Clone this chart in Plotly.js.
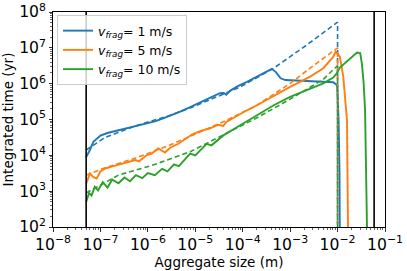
<!DOCTYPE html>
<html>
<head>
<meta charset="utf-8">
<script src="https://cdn.plot.ly/plotly-3.0.1.min.js"></script>
<style>html,body{margin:0;padding:0;background:#fff;}#chart{width:407px;height:271px;}</style>
</head>
<body>
<div id="chart"></div>
<script>
// ---- data (aggregate size in m, integrated time in yr) ----
const labels = ["<i>v</i><sub><i>frag</i></sub>= 1 m/s", "<i>v</i><sub><i>frag</i></sub>= 5 m/s", "<i>v</i><sub><i>frag</i></sub>= 10 m/s"];
const colors = ["#1f77b4", "#ff7f0e", "#2ca02c"];

const blueSize = [5.0e-8, 6.0e-8, 7.1e-8, 1.0e-7, 1.4e-7, 1.86e-7, 2.8e-7, 4.2e-7, 6.3e-7, 9.5e-7, 1.4e-6, 2.1e-6, 3.2e-6, 4.8e-6, 7.8e-6, 1.26e-5, 2.0e-5, 3.3e-5, 4.0e-5, 4.5e-5, 5.4e-5, 7.9e-5, 1.23e-4, 2.24e-4, 4.1e-4, 5.0e-4, 6.3e-4, 7.9e-4, 2.0e-3, 5.0e-3, 8.1e-3, 9.8e-3, 1.05e-2, 1.1e-2, 1.12e-2, 1.12e-2];
const blueTime = [8.9e3, 1.41e4, 2.4e4, 3.55e4, 4.2e4, 4.6e4, 5.2e4, 5.8e4, 6.6e4, 7.8e4, 8.9e4, 1.07e5, 1.32e5, 1.66e5, 2.2e5, 2.95e5, 4.0e5, 5.4e5, 5.5e5, 4.9e5, 6.3e5, 8.5e5, 1.12e6, 1.66e6, 2.6e6, 2.1e6, 1.41e6, 1.26e6, 1.2e6, 1.15e6, 1.1e6, 9.1e5, 1.0e5, 3.2e3, 1.0e2, 1.0e1];

const orangeSize = [5.0e-8, 6.0e-8, 7.0e-8, 8.3e-8, 1.0e-7, 1.26e-7, 1.8e-7, 2.4e-7, 3.5e-7, 5.4e-7, 6.5e-7, 9.5e-7, 1.2e-6, 1.66e-6, 2.3e-6, 3.0e-6, 4.4e-6, 6.0e-6, 8.5e-6, 1.3e-5, 2.0e-5, 3.0e-5, 3.9e-5, 4.5e-5, 7.0e-5, 1.2e-4, 2.0e-4, 4.0e-4, 1.0e-3, 2.6e-3, 5.0e-3, 8.1e-3, 9.1e-3, 9.8e-3, 1.12e-2, 1.32e-2, 1.45e-2, 1.58e-2, 1.66e-2, 1.66e-2];
const orangeTime = [1.62e3, 3.1e3, 2.5e3, 2.24e3, 3.55e3, 4.3e3, 4.9e3, 5.4e3, 6.3e3, 7.4e3, 6.8e3, 1.02e4, 1.12e4, 1.55e4, 1.2e4, 1.66e4, 2.1e4, 2.8e4, 3.8e4, 4.8e4, 5.6e4, 7.1e4, 6.6e4, 8.5e4, 1.2e5, 1.78e5, 2.5e5, 4.2e5, 8.1e5, 1.55e6, 2.7e6, 5.6e6, 7.8e6, 7.1e6, 5.6e6, 1.55e6, 3.5e5, 9.5e4, 1.0e2, 1.0e1];

const greenSize = [5.0e-8, 5.75e-8, 6.5e-8, 7.6e-8, 8.9e-8, 1.12e-7, 1.41e-7, 1.78e-7, 2.4e-7, 3.2e-7, 4.2e-7, 5.6e-7, 7.6e-7, 1.0e-6, 1.4e-6, 2.0e-6, 2.6e-6, 3.55e-6, 4.5e-6, 6.0e-6, 7.8e-6, 1.0e-5, 1.74e-5, 2.2e-5, 3.9e-5, 8.9e-5, 2.0e-4, 4.5e-4, 1.0e-3, 2.24e-3, 5.0e-3, 8.1e-3, 9.5e-3, 1.12e-2, 1.45e-2, 2.0e-2, 2.57e-2, 3.0e-2, 3.25e-2, 3.55e-2, 3.8e-2, 4.17e-2, 4.17e-2];
const greenTime = [5.0e2, 8.9e2, 7.6e2, 1.32e3, 1.05e3, 1.78e3, 1.26e3, 2.1e3, 1.66e3, 2.4e3, 1.9e3, 2.8e3, 2.3e3, 3.2e3, 2.8e3, 4.2e3, 3.55e3, 5.6e3, 5.0e3, 7.6e3, 1.12e4, 1.0e4, 2.1e4, 1.9e4, 3.6e4, 6.9e4, 1.32e5, 2.5e5, 4.3e5, 6.6e5, 1.02e6, 1.48e6, 1.9e6, 2.8e6, 3.8e6, 5.5e6, 7.4e6, 7.1e6, 3.7e6, 1.02e6, 1.8e5, 1.0e2, 1.0e1];

const blueModelSize = [5.0e-8, 1.26e-7, 5.4e-7, 2.7e-6, 8.5e-6, 8.9e-5, 4.5e-4, 2.24e-3, 1.0e-2, 1.0e-2];
const blueModelTime = [1.41e4, 3.16e4, 6.6e4, 1.26e5, 2.2e5, 8.1e5, 2.7e6, 1.2e7, 5.2e7, 1.0e1];
const orangeModelSize = [5.0e-8, 1.26e-7, 5.4e-7, 2.7e-6, 8.5e-6, 3.9e-5, 2.0e-4, 1.0e-3, 3.6e-3, 1.0e-2, 1.0e-2];
const orangeModelTime = [2.8e3, 4.5e3, 8.3e3, 1.86e4, 3.55e4, 8.7e4, 2.5e5, 1.02e6, 3.7e6, 1.0e7, 1.0e1];
const greenModelSize = [5.0e-8, 2.4e-7, 1.2e-6, 7.8e-6, 2.0e-4, 1.0e-3, 5.0e-3, 1.0e-2, 1.0e-2];
const greenModelTime = [8.9e2, 2.8e3, 5.2e3, 1.26e4, 1.12e5, 3.7e5, 1.32e6, 3.2e6, 1.0e1];

const boundSize = [5.0e-8, 5.9e-2];
const boundTime = [1.0e1, 1.0e9];

const xRangeExp = [-8, -1];
const yRangeExp = [2, 8];

// ---- traces ----
const traces = [];
const solids = [[blueSize, blueTime], [orangeSize, orangeTime], [greenSize, greenTime]];
const models = [[blueModelSize, blueModelTime], [orangeModelSize, orangeModelTime], [greenModelSize, greenModelTime]];
for (let i = 0; i < 3; i++) {
  traces.push({x: solids[i][0], y: solids[i][1], mode: 'lines', name: labels[i],
    line: {color: colors[i], width: 1.9}, showlegend: true});
}
for (let i = 0; i < 3; i++) {
  traces.push({x: models[i][0], y: models[i][1], mode: 'lines', showlegend: false,
    line: {color: colors[i], width: 1.6, dash: '5px,3px'}});
}
for (let k = 0; k < boundSize.length; k++) {
  traces.push({x: [boundSize[k], boundSize[k]], y: boundTime, mode: 'lines', showlegend: false,
    line: {color: 'black', width: 1.6}});
}

const axisCommon = {
  type: 'log', showgrid: false, zeroline: false, showline: true, linecolor: 'black', linewidth: 1,
  mirror: true, ticks: 'outside', ticklen: 3.5, tickwidth: 0.8, tickcolor: 'black',
  tickmode: 'linear', tick0: 0, dtick: 1,
  exponentformat: 'power', tickfont: {family: 'DejaVu Sans', size: 12.5, color: 'black'},
  minor: {ticks: 'outside', ticklen: 2, tickwidth: 0.6, tickcolor: 'black', showgrid: false, dtick: 'D1'}
};

const layout = {
  width: 407, height: 271,
  margin: {l: 53, r: 22, t: 12, b: 44},
  paper_bgcolor: 'white', plot_bgcolor: 'white',
  showlegend: true,
  xaxis: Object.assign({}, axisCommon, {
    range: xRangeExp,
    title: {text: 'Aggregate size (m)', font: {family: 'DejaVu Sans', size: 13.5, color: 'black'}, standoff: 0}
  }),
  yaxis: Object.assign({}, axisCommon, {
    range: yRangeExp,
    title: {text: 'Integrated time (yr)', font: {family: 'DejaVu Sans', size: 13.5, color: 'black'}, standoff: 4}
  }),
  legend: {
    x: 0.012, y: 0.986, xanchor: 'left', yanchor: 'top',
    bgcolor: 'rgba(255,255,255,0.8)', bordercolor: '#cccccc', borderwidth: 1,
    font: {family: 'DejaVu Sans', size: 12.5, color: 'black'},
    itemwidth: 30, tracegroupgap: 0
  }
};

Plotly.newPlot('chart', traces, layout, {displayModeBar: false, staticPlot: true});
</script>
</body>
</html>
